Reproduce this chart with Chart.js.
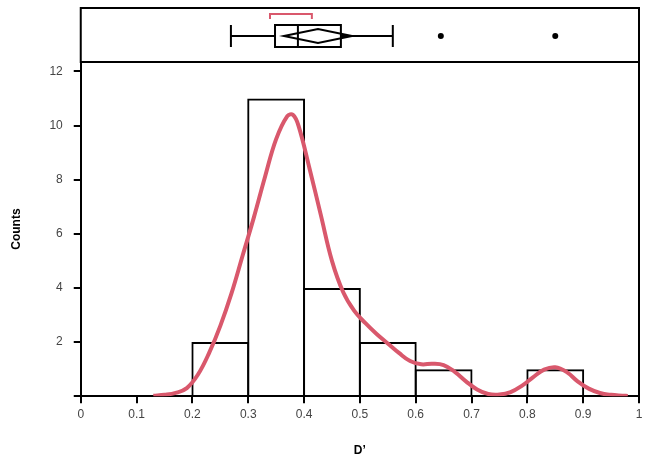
<!DOCTYPE html>
<html>
<head>
<meta charset="utf-8">
<script src="https://cdn.jsdelivr.net/npm/chart.js@4/dist/chart.umd.min.js"></script>
<style>
  body { margin: 0; background: #fff; }
</style>
</head>
<body>
<canvas id="grafico" width="649" height="462"></canvas>
<script>
// histogram bins (centres) and counts
const binCenters = [0.25, 0.35, 0.45, 0.55, 0.65, 0.75, 0.85];
const binCounts = [2, 11, 4, 2, 1, 0, 1];

// smoothed density curve (in counts)
const densX = [0.13, 0.15, 0.17, 0.19, 0.21, 0.23, 0.25, 0.27, 0.29, 0.31, 0.33, 0.35, 0.37, 0.38, 0.39,
  0.41, 0.43, 0.45, 0.47, 0.49, 0.51, 0.53, 0.55, 0.57, 0.59, 0.61, 0.63, 0.65, 0.67, 0.69, 0.71,
  0.73, 0.75, 0.77, 0.79, 0.81, 0.83, 0.85, 0.87, 0.89, 0.91, 0.93, 0.95, 0.97, 0.98];
const densY = [0.02, 0.05, 0.12, 0.3, 0.8, 1.6, 2.6, 3.8, 5.2, 6.6, 8.1, 9.5, 10.35, 10.4, 10.0,
  8.4, 6.7, 5.0, 3.85, 3.15, 2.7, 2.3, 1.95, 1.6, 1.3, 1.18, 1.2, 1.15, 0.9, 0.55, 0.25,
  0.08, 0.06, 0.15, 0.38, 0.7, 0.98, 1.07, 0.9, 0.55, 0.28, 0.12, 0.05, 0.02, 0.01];

// box plot on top
const whiskers = [0.269, 0.559];
const quartiles = [0.348, 0.389, 0.466];
const meanDiamond = [0.364, 0.425, 0.486];
const outliers = [0.645, 0.85];
const shortestHalf = [0.339, 0.414];

// ticks
const xTicks = [0, 0.1, 0.2, 0.3, 0.4, 0.5, 0.6, 0.7, 0.8, 0.9, 1];
const xLabels = ["0", "0.1", "0.2", "0.3", "0.4", "0.5", "0.6", "0.7", "0.8", "0.9", "1"];
const yTicks = [0, 2, 4, 6, 8, 10, 12];

const rojo = "#d9586c";

const boxPlugin = {
  id: "boxPanel",
  afterDraw(chart) {
    const ctx = chart.ctx;
    const a = chart.chartArea;
    const x = chart.scales.x;
    const px = v => x.getPixelForValue(v);
    const top = 8;
    const cy = a.top - 26;

    ctx.save();
    ctx.strokeStyle = "#000";
    ctx.lineWidth = 2;
    // panel frame + right edge of main plot
    ctx.strokeRect(a.left, top, a.right - a.left, a.top - top);
    ctx.beginPath();
    ctx.moveTo(a.right, a.top);
    ctx.lineTo(a.right, a.bottom);
    ctx.stroke();

    // whiskers
    ctx.beginPath();
    ctx.moveTo(px(whiskers[0]), cy);
    ctx.lineTo(px(quartiles[0]), cy);
    ctx.moveTo(px(quartiles[2]), cy);
    ctx.lineTo(px(whiskers[1]), cy);
    ctx.moveTo(px(whiskers[0]), cy - 11);
    ctx.lineTo(px(whiskers[0]), cy + 11);
    ctx.moveTo(px(whiskers[1]), cy - 11);
    ctx.lineTo(px(whiskers[1]), cy + 11);
    ctx.stroke();

    // box and median
    ctx.strokeRect(px(quartiles[0]), cy - 11, px(quartiles[2]) - px(quartiles[0]), 22);
    ctx.beginPath();
    ctx.moveTo(px(quartiles[1]), cy - 11);
    ctx.lineTo(px(quartiles[1]), cy + 11);
    ctx.stroke();

    // mean diamond
    ctx.beginPath();
    ctx.moveTo(px(meanDiamond[0]), cy);
    ctx.lineTo(px(meanDiamond[1]), cy - 7);
    ctx.lineTo(px(meanDiamond[2]), cy);
    ctx.lineTo(px(meanDiamond[1]), cy + 7);
    ctx.closePath();
    ctx.stroke();

    // outliers
    ctx.fillStyle = "#000";
    outliers.forEach(v => {
      ctx.beginPath();
      ctx.arc(px(v), cy, 3, 0, Math.PI * 2);
      ctx.fill();
    });

    // shortest half bracket
    ctx.strokeStyle = rojo;
    ctx.beginPath();
    ctx.moveTo(px(shortestHalf[0]), cy - 17);
    ctx.lineTo(px(shortestHalf[0]), cy - 22);
    ctx.lineTo(px(shortestHalf[1]), cy - 22);
    ctx.lineTo(px(shortestHalf[1]), cy - 17);
    ctx.stroke();
    ctx.restore();
  }
};

const tickFont = { family: "Liberation Sans", size: 12 };
const titleFont = { family: "Liberation Sans", size: 12, weight: "bold" };

new Chart(document.getElementById("grafico"), {
  type: "bar",
  data: {
    datasets: [
      {
        type: "line",
        data: densX.map((v, i) => ({ x: v, y: densY[i] })),
        borderColor: rojo,
        borderWidth: 4,
        pointRadius: 0,
        tension: 0.4,
        fill: false,
        order: 1
      },
      {
        type: "bar",
        data: binCenters.map((v, i) => ({ x: v, y: binCounts[i] })),
        backgroundColor: "rgba(0,0,0,0)",
        borderColor: "#000",
        borderWidth: 2,
        inflateAmount: 0,
        // a little wider so neighbouring edges overlap into one line
        barPercentage: 1.036,
        categoryPercentage: 1,
        order: 2
      }
    ]
  },
  options: {
    responsive: false,
    animation: false,
    devicePixelRatio: 1,
    layout: { padding: { top: 62, right: 10, bottom: 4, left: 9 } },
    plugins: {
      legend: { display: false },
      tooltip: { enabled: false }
    },
    scales: {
      x: {
        type: "linear",
        min: 0,
        max: 1,
        offset: false,
        afterBuildTicks: s => { s.ticks = xTicks.map(v => ({ value: v })); },
        ticks: {
          callback: (v, i) => xLabels[i],
          color: "#444",
          font: tickFont,
          padding: 4,
          maxRotation: 0,
          autoSkip: false
        },
        grid: { offset: false, drawOnChartArea: false, color: "#000", lineWidth: 2, tickLength: 7 },
        border: { display: true, color: "#000", width: 2 },
        title: { display: true, text: "D’", font: titleFont, color: "#000", padding: { top: 18, bottom: 0 } }
      },
      y: {
        min: 0,
        max: 12.35,
        afterBuildTicks: s => { s.ticks = yTicks.map(v => ({ value: v })); },
        ticks: {
          callback: v => (v === 0 ? "" : String(v)),
          color: "#444",
          font: tickFont,
          padding: 11
        },
        grid: { drawOnChartArea: false, color: "#000", lineWidth: 2, tickLength: 7 },
        border: { display: true, color: "#000", width: 2 },
        title: { display: true, text: "Counts", font: titleFont, color: "#000", padding: { top: 0, bottom: 15 } }
      }
    }
  },
  plugins: [boxPlugin]
});
</script>
</body>
</html>
